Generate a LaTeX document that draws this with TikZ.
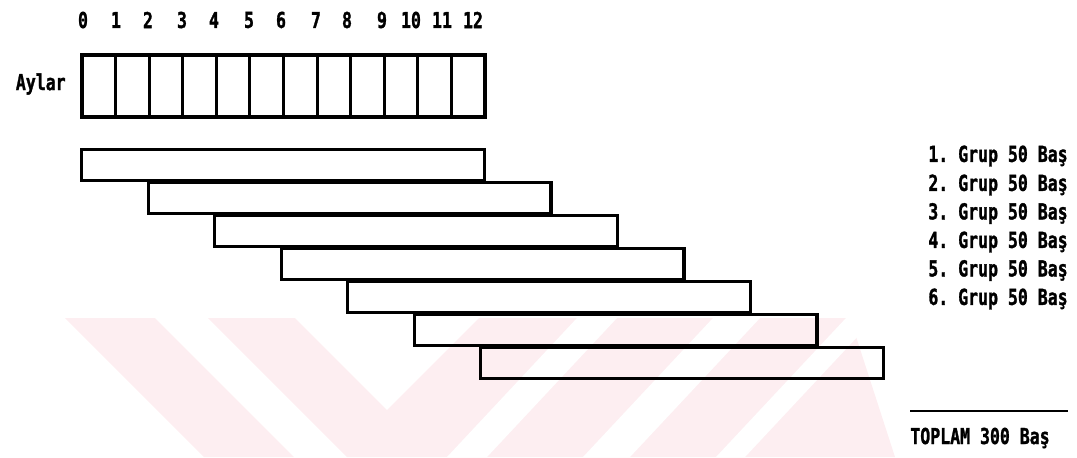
\documentclass[tikz,border=0pt]{standalone}
\usepackage{fontspec}
\setmonofont[BoldFeatures={FakeBold=1.6}]{DejaVu Sans Mono}
\usepackage{tikz}
\usepackage{xcolor}
\definecolor{wmpink}{HTML}{FDEEF1}
\newcommand{\dottxt}[1]{\scalebox{0.98}[1.3]{#1}}
\tikzset{
  dotfont/.style={font=\ttfamily\bfseries\fontsize{9.6}{11}\selectfont,inner sep=0pt},
  cellbox/.style={line width=1.8pt},
  grupbar/.style={draw,line width=1.8pt,rectangle,inner sep=0pt,anchor=north west,
    minimum width=8.06cm,minimum height=0.62cm},
}

\begin{document}
\begin{tikzpicture}[x=0.02cm,y=-0.02cm]
  \useasboundingbox (0,0) rectangle (1077,457);
  % faint watermark behind the chart
  \fill[wmpink] (65,318) -- (155,318) -- (294,457) -- (204,457) -- cycle;
  \fill[wmpink] (208,318) -- (295,318) -- (387,410) -- (479,318) -- (850,318)
    -- (895,457) -- (347,457) -- cycle;
  \fill[white] (447,457) -- (487,457) -- (617,318) -- (577,318) -- cycle;
  \fill[white] (583,457) -- (630,457) -- (760,318) -- (713,318) -- cycle;
  \fill[white] (716,457) -- (745,457) -- (875,318) -- (846,318) -- cycle;
  % months
  \node[dotfont] (n0) at (83,20) {\dottxt{0}};
  \node[dotfont] (n1) at (116,20) {\dottxt{1}};
  \node[dotfont] (n2) at (148,20) {\dottxt{2}};
  \node[dotfont] (n3) at (182,20) {\dottxt{3}};
  \node[dotfont] (n4) at (214,20) {\dottxt{4}};
  \node[dotfont] (n5) at (249,20) {\dottxt{5}};
  \node[dotfont] (n6) at (281,20) {\dottxt{6}};
  \node[dotfont] (n7) at (316,20) {\dottxt{7}};
  \node[dotfont] (n8) at (347,20) {\dottxt{8}};
  \node[dotfont] (n9) at (382,20) {\dottxt{9}};
  \node[dotfont] (n10) at (411,20) {\dottxt{10}};
  \node[dotfont] (n11) at (442,20) {\dottxt{11}};
  \node[dotfont] (n12) at (473,20) {\dottxt{12}};
  \node[dotfont,anchor=east] (aylar) at (66,84) {\dottxt{Aylar}};
  \draw[cellbox] (82,55) rectangle (485,117);
  \draw[cellbox] (115.6,55) -- (115.6,117);
  \draw[cellbox] (149.2,55) -- (149.2,117);
  \draw[cellbox] (182.7,55) -- (182.7,117);
  \draw[cellbox] (216.3,55) -- (216.3,117);
  \draw[cellbox] (249.9,55) -- (249.9,117);
  \draw[cellbox] (283.5,55) -- (283.5,117);
  \draw[cellbox] (317.1,55) -- (317.1,117);
  \draw[cellbox] (350.7,55) -- (350.7,117);
  \draw[cellbox] (384.3,55) -- (384.3,117);
  \draw[cellbox] (417.8,55) -- (417.8,117);
  \draw[cellbox] (451.4,55) -- (451.4,117);
  % groups
  \node[grupbar] (g1) at (80,148) {};
  \node[grupbar] (g2) at (146.5,181) {};
  \node[grupbar] (g3) at (213,214) {};
  \node[grupbar] (g4) at (279.5,247) {};
  \node[grupbar] (g5) at (346,280) {};
  \node[grupbar] (g6) at (412.5,313) {};
  \node[grupbar] (g7) at (479,346) {};
  \node[dotfont,anchor=west] (l1) at (928,156) {\dottxt{1. Grup 50 Baş}};
  \node[dotfont,anchor=west] (l2) at (928,185) {\dottxt{2. Grup 50 Baş}};
  \node[dotfont,anchor=west] (l3) at (928,213.5) {\dottxt{3. Grup 50 Baş}};
  \node[dotfont,anchor=west] (l4) at (928,242) {\dottxt{4. Grup 50 Baş}};
  \node[dotfont,anchor=west] (l5) at (928,270.5) {\dottxt{5. Grup 50 Baş}};
  \node[dotfont,anchor=west] (l6) at (928,299) {\dottxt{6. Grup 50 Baş}};
  \coordinate (sumL) at (910,411);
  \coordinate (sumR) at (1068,411);
  \draw[line width=1.4pt] (sumL) -- (sumR);
  \node[dotfont,anchor=west] (toplam) at (910,438) {\dottxt{TOPLAM 300 Baş}};
\end{tikzpicture}
\end{document}
